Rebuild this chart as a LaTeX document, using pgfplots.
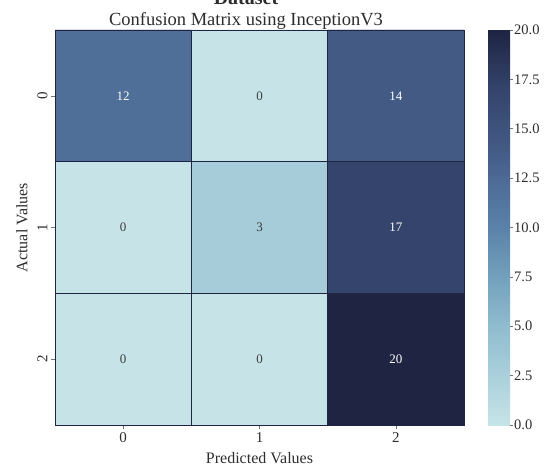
\documentclass[border=0pt]{standalone}
\usepackage{fontspec}
\setmainfont{Liberation Serif}
\usepackage{pgfplots}
\pgfplotsset{compat=1.18}
\definecolor{gridc}{RGB}{30,36,66}
\definecolor{txt}{RGB}{45,45,45}
\definecolor{dtxt}{RGB}{60,60,60}
\begin{document}
\begin{tikzpicture}[x=1pt,y=1pt]
\begin{axis}[
 at={(55pt,44pt)}, anchor=south west,
 scale only axis, width=409pt, height=395pt,
 xmin=-0.5,xmax=2.5,ymin=-0.5,ymax=2.5,
 enlargelimits=false,
 xtick={0,1,2}, ytick={0,1,2},
 xticklabels={0,1,2}, yticklabels={2,1,0},
 minor xtick={0.5,1.5}, minor ytick={0.5,1.5},
 minor tick length=0pt,
 xminorgrids, yminorgrids, minor grid style={gridc, line width=0.8pt},
 axis line style={gridc, line width=0.8pt},
 tick align=outside, tick pos=left, major tick length=4pt,
 major tick style={black!55, line width=0.6pt},
 ticklabel style={font=\fontsize{15}{18}\selectfont, text=txt},
 y tick label style={rotate=90},
 xlabel={Predicted Values}, ylabel={Actual Values},
 xlabel style={at={(axis description cs:0.5,-0.0835)}, anchor=center},
 ylabel style={at={(axis description cs:-0.0807,0.5)}, anchor=center},
 label style={font=\fontsize{16}{19}\selectfont, text=txt},
 colormap={cm}{rgb255(0cm)=(198,228,232); rgb255(2.5cm)=(170,208,219); rgb255(5cm)=(143,188,206); rgb255(7.5cm)=(115,160,188); rgb255(10cm)=(90,130,168); rgb255(12cm)=(79,111,152); rgb255(14cm)=(67,90,133); rgb255(17cm)=(52,68,108); rgb255(20cm)=(30,36,66)},
 point meta min=0, point meta max=20,
 colorbar,
 colorbar/width=22pt,
 colorbar shift/.style={xshift=24pt},
 colorbar style={
   at={(parent axis.north east)}, anchor=north west,
   ytick={0,2.5,...,20},
   yticklabel={\pgfmathprintnumber[fixed,fixed zerofill,precision=1]{\tick}},
   ytick pos=right, tick align=outside, major tick length=3pt,
   major tick style={black!55, line width=0.6pt},
   axis line style={draw=none},
   ticklabel style={font=\fontsize{14.5}{17}\selectfont, text=txt, inner xsep=1pt},
   /pgf/number format/assume math mode=true,
 },
 axis on top,
 /pgf/number format/assume math mode=true,
]
\addplot[matrix plot*, mesh/cols=3, mesh/rows=3, point meta=explicit] table[meta=C] {
x y C
0 0 0
1 0 0
2 0 20
0 1 0
1 1 3
2 1 17
0 2 12
1 2 0
2 2 14
};
\addplot[draw=none, mark=none, nodes near coords, point meta=explicit symbolic,
  nodes near coords style={anchor=center, font=\fontsize{13}{15}\selectfont, text=white}] table[meta=l] {
x y l
0 2 12
2 2 14
2 1 17
2 0 20
};
\addplot[draw=none, mark=none, nodes near coords, point meta=explicit symbolic,
  nodes near coords style={anchor=center, font=\fontsize{13}{15}\selectfont, text=dtxt}] table[meta=l] {
x y l
1 2 0
0 1 0
1 1 3
0 0 0
1 0 0
};
\end{axis}
\node[font=\fontsize{18.5}{22}\selectfont, text=txt, anchor=base] at (246,443) {Confusion Matrix using InceptionV3};
\node[font=\bfseries\fontsize{20}{24}\selectfont, text=txt, anchor=base] at (246,464) {Dataset};
\pgfresetboundingbox
\useasboundingbox (0,0) rectangle (551,469);
\end{tikzpicture}
\end{document}
